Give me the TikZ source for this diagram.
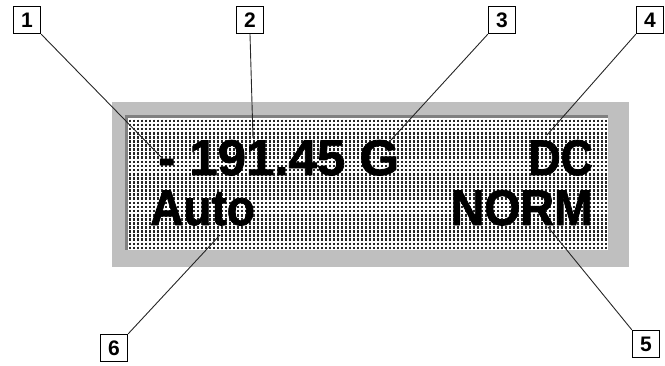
\documentclass[tikz,border=0pt]{standalone}
\usepackage{fontspec}
\setmainfont{Liberation Sans}
\newfontfamily\lcdfont[BoldFont={Liberation Sans Bold},BoldFeatures={FakeBold=1.6}]{Liberation Sans}
\begin{document}
\begin{tikzpicture}[x=1pt,y=-1pt,
  callout/.style={draw=black,line width=1.3pt,fill=white,minimum width=27pt,minimum height=27pt,inner sep=0pt,font=\fontsize{21}{21}\selectfont\bfseries},
  leader/.style={draw=black!85,line width=0.9pt},
  lcd/.style={inner sep=0pt,font=\fontsize{50}{50}\lcdfont\bfseries,text=black}]
\useasboundingbox (0,0) rectangle (665,365);
% frame
\fill[black!25] (112,102) rectangle (629,267);
\fill[white] (125,115) rectangle (608,250);
\fill[black!50] (125,115) rectangle (608,118);
\fill[black!50] (125,115) rectangle (128,250);
% dot matrix
\foreach \xx in {130,134,...,606}{
  \draw[black!85,line width=1.8pt,dash pattern=on 2.7pt off 1.4pt] (\xx,119.5) -- (\xx,249);
}
% display text
\node[lcd,anchor=base west,xscale=1.02] (t1) at (158,175) {- 191.45 G};
\node[lcd,anchor=base east,xscale=0.89] (t4) at (593,175) {DC};
\node[lcd,anchor=base west,xscale=0.92] (t6) at (150,225) {Auto};
\node[lcd,anchor=base east,xscale=0.93] (t5) at (593,225) {NORM};
% leader end points
\coordinate (e1) at (162,158);
\coordinate (e2) at (253,138);
\coordinate (e3) at (391,140);
\coordinate (e4) at (547,135);
\coordinate (e5) at (548,227);
\coordinate (e6) at (220,235);
% callouts
\node[callout] (c1) at (27,20) {1};
\node[callout] (c2) at (250,20) {2};
\node[callout] (c3) at (502,20) {3};
\node[callout] (c4) at (650,20) {4};
\node[callout] (c5) at (646,344) {5};
\node[callout] (c6) at (114,348) {6};
\draw[leader] (c1.south east) -- (e1);
\draw[leader] (c2.south) -- (e2);
\draw[leader] (c3.south west) -- (e3);
\draw[leader] (c4.south west) -- (e4);
\draw[leader] (c5.north west) -- (e5);
\draw[leader] (c6.north east) -- (e6);
\end{tikzpicture}
\end{document}
